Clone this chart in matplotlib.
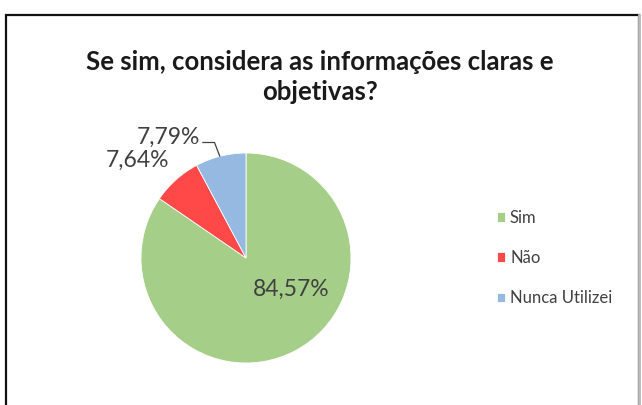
import matplotlib
matplotlib.use("Agg")
import matplotlib.pyplot as plt
from matplotlib.patches import Rectangle

# Survey answers
categories = ["Sim", "Não", "Nunca Utilizei"]
percentages = [84.57, 7.64, 7.79]
colors = ["#A5CF88", "#FF4949", "#95B9E1"]
title = "Se sim, considera as informações claras e\nobjetivas?"

W, H = 642, 405
fig = plt.figure(figsize=(W / 100, H / 100), dpi=100)
fig.patch.set_facecolor("white")
plt.rcParams["font.family"] = ["Lato", "DejaVu Sans"]

# Chart frame
fig.patches.append(Rectangle((6 / W, -0.01), 633 / W, (H - 15) / H + 0.01,
                             transform=fig.transFigure, fill=False,
                             edgecolor="#111111", linewidth=1.6))
fig.add_artist(plt.Line2D([639 / W, 639 / W], [0, (H - 15) / H],
                          transform=fig.transFigure, color="#BBBBBB", lw=2))

# Pie axes: radius 105 px, centred at (246, 258) from the top
R = 105
cx, cy = 246, H - 258
half = 1.1 * R
ax = fig.add_axes([(cx - half) / W, (cy - half) / H, 2 * half / W, 2 * half / H])

wedges, _ = ax.pie(percentages, colors=colors, startangle=90, counterclock=False,
                   radius=1.0, wedgeprops=dict(edgecolor="white", linewidth=0.6))
ax.set_xlim(-1.1, 1.1)
ax.set_ylim(-1.1, 1.1)
ax.set_aspect("equal")
ax.axis("off")

def fmt(v):
    return f"{v:.2f}".replace(".", ",") + "%"

label_pos = [(0.43, -0.295), (-1.03, 0.93), (-0.74, 1.15)]
for v, (x, y) in zip(percentages, label_pos):
    ax.text(x, y, fmt(v), ha="center", va="center", fontsize=16.5,
            color="#404040")

# Leader line for the small blue slice
ax.plot([-0.41, -0.30, -0.25], [1.10, 1.10, 0.97], color="#404040", lw=0.9,
        clip_on=False)

fig.text(320 / W, 1 - 77 / H, title, ha="center", va="center", fontsize=18.5,
         fontweight="bold", color="#1A1A1A", linespacing=1.3)

leg = fig.legend(wedges, categories, loc="center left",
                 bbox_to_anchor=(490 / W, 1 - 258 / H), frameon=False,
                 fontsize=12, handlelength=0.5, handleheight=0.5,
                 handletextpad=0.3, labelspacing=1.45, borderaxespad=0)
for t in leg.get_texts():
    t.set_color("#404040")

fig.savefig("out.png", dpi=100, facecolor="white")
